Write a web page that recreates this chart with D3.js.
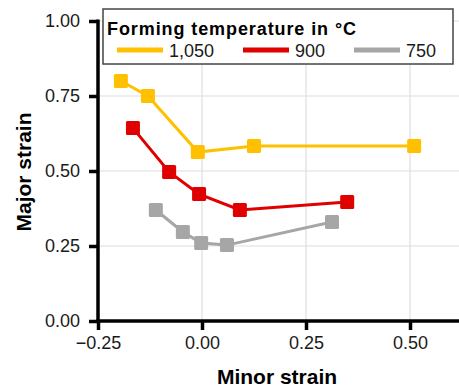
<!DOCTYPE html>
<html>
<head>
<meta charset="utf-8">
<script src="https://cdn.jsdelivr.net/npm/d3@7"></script>
<style>
  body { margin: 0; background: white; }
  text { font-family: "Liberation Sans", Arial, sans-serif; }
</style>
</head>
<body>
<div id="chart"></div>
<script>
// data
var minor1050 = [-0.195, -0.13, -0.01, 0.125, 0.51];
var major1050 = [0.80, 0.75, 0.563, 0.583, 0.583];
var minor900 = [-0.166, -0.079, -0.007, 0.091, 0.349];
var major900 = [0.643, 0.497, 0.423, 0.37, 0.397];
var minor750 = [-0.111, -0.046, -0.002, 0.06, 0.3125];
var major750 = [0.37, 0.297, 0.26, 0.253, 0.33];

var seriesNames = ["1,050", "900", "750"];
var seriesColors = ["#FFC000", "#E00000", "#A6A6A6"];
var xTicks = [-0.25, 0, 0.25, 0.5];
var yTicks = [0, 0.25, 0.5, 0.75, 1.0];

var W = 459, H = 389;
var svg = d3.select("#chart").append("svg")
  .attr("width", W)
  .attr("height", H);

var x = d3.scaleLinear().domain([-0.25, 0.62]).range([98, 98 + 0.87 * 416]);
var y = d3.scaleLinear().domain([0, 1]).range([321, 21]);

// grid
svg.append("g").selectAll("line.v")
  .data([0, 0.25, 0.5])
  .enter().append("line")
  .attr("x1", function(d){ return x(d); })
  .attr("x2", function(d){ return x(d); })
  .attr("y1", y(1))
  .attr("y2", y(0))
  .style("stroke", "#dedede")
  .style("stroke-width", 1.2);
svg.append("g").selectAll("line.h")
  .data([0.25, 0.5, 0.75, 1.0])
  .enter().append("line")
  .attr("x1", x(-0.25))
  .attr("x2", W)
  .attr("y1", function(d){ return y(d); })
  .attr("y2", function(d){ return y(d); })
  .style("stroke", "#dedede")
  .style("stroke-width", 1.2);

// series
var series = [
  {name: seriesNames[0], color: seriesColors[0], xs: minor1050, ys: major1050},
  {name: seriesNames[1], color: seriesColors[1], xs: minor900, ys: major900},
  {name: seriesNames[2], color: seriesColors[2], xs: minor750, ys: major750}
];

var line = d3.line()
  .x(function(d){ return x(d[0]); })
  .y(function(d){ return y(d[1]); });

var SQ = 14;
series.slice().reverse().forEach(function(s){
  var pts = s.xs.map(function(v, i){ return [v, s.ys[i]]; });
  svg.append("path")
    .datum(pts)
    .attr("d", line)
    .style("fill", "none")
    .style("stroke", s.color)
    .style("stroke-width", 3);
  svg.append("g").selectAll("rect")
    .data(pts)
    .enter().append("rect")
    .attr("x", function(d){ return x(d[0]) - SQ/2; })
    .attr("y", function(d){ return y(d[1]) - SQ/2; })
    .attr("width", SQ)
    .attr("height", SQ)
    .attr("rx", 1.5)
    .style("fill", s.color);
});

// axes
var xAxis = d3.axisBottom(x).tickValues(xTicks).tickSize(9).tickPadding(6)
  .tickFormat(d3.format(".2f"));
var gx = svg.append("g")
  .attr("transform", "translate(0," + y(0) + ")")
  .call(xAxis);
gx.select(".domain").remove();
gx.append("line")
  .attr("x1", x(-0.25) - 1.5)
  .attr("x2", W)
  .attr("y1", 0).attr("y2", 0)
  .style("stroke", "black")
  .style("stroke-width", 3.5);
gx.selectAll(".tick line").style("stroke", "black").style("stroke-width", 3.5);
gx.selectAll(".tick text")
  .style("font-size", "18px")
  .style("fill", "#1a1a1a");

var yAxis = d3.axisLeft(y).tickValues(yTicks).tickSize(9).tickPadding(9)
  .tickFormat(d3.format(".2f"));
var gy = svg.append("g")
  .attr("transform", "translate(" + x(-0.25) + ",0)")
  .call(yAxis);
gy.select(".domain").remove();
gy.append("line")
  .attr("x1", 0).attr("x2", 0)
  .attr("y1", y(1) - 1.5)
  .attr("y2", y(0) + 1.5)
  .style("stroke", "black")
  .style("stroke-width", 3.5);
gy.selectAll(".tick line").style("stroke", "black").style("stroke-width", 3.5);
gy.selectAll(".tick text")
  .style("font-size", "18px")
  .style("fill", "#1a1a1a");

// axis titles
svg.append("text")
  .attr("x", 277)
  .attr("y", 384)
  .attr("text-anchor", "middle")
  .style("font-size", "21px")
  .style("font-weight", "bold")
  .text("Minor strain");
svg.append("text")
  .attr("transform", "translate(31,172) rotate(-90)")
  .attr("text-anchor", "middle")
  .style("font-size", "21px")
  .style("font-weight", "bold")
  .text("Major strain");

// legend
var legend = svg.append("g").attr("transform", "translate(103,9)");
legend.append("rect")
  .attr("x", 0).attr("y", 0)
  .attr("width", 350).attr("height", 55)
  .style("fill", "white")
  .style("stroke", "#444")
  .style("stroke-width", 1.5);
legend.append("text")
  .attr("x", 4)
  .attr("y", 26)
  .attr("textLength", 249)
  .style("font-size", "18px")
  .style("font-weight", "bold")
  .text("Forming temperature in \u00B0C");
var legX = [14, 140, 251];
series.forEach(function(s, i){
  legend.append("line")
    .attr("x1", legX[i]).attr("x2", legX[i] + 46)
    .attr("y1", 41).attr("y2", 41)
    .style("stroke", s.color)
    .style("stroke-width", 5);
  legend.append("text")
    .attr("x", legX[i] + 52)
    .attr("y", 48)
    .style("font-size", "18px")
    .style("fill", "#1a1a1a")
    .text(s.name);
});
</script>
</body>
</html>
